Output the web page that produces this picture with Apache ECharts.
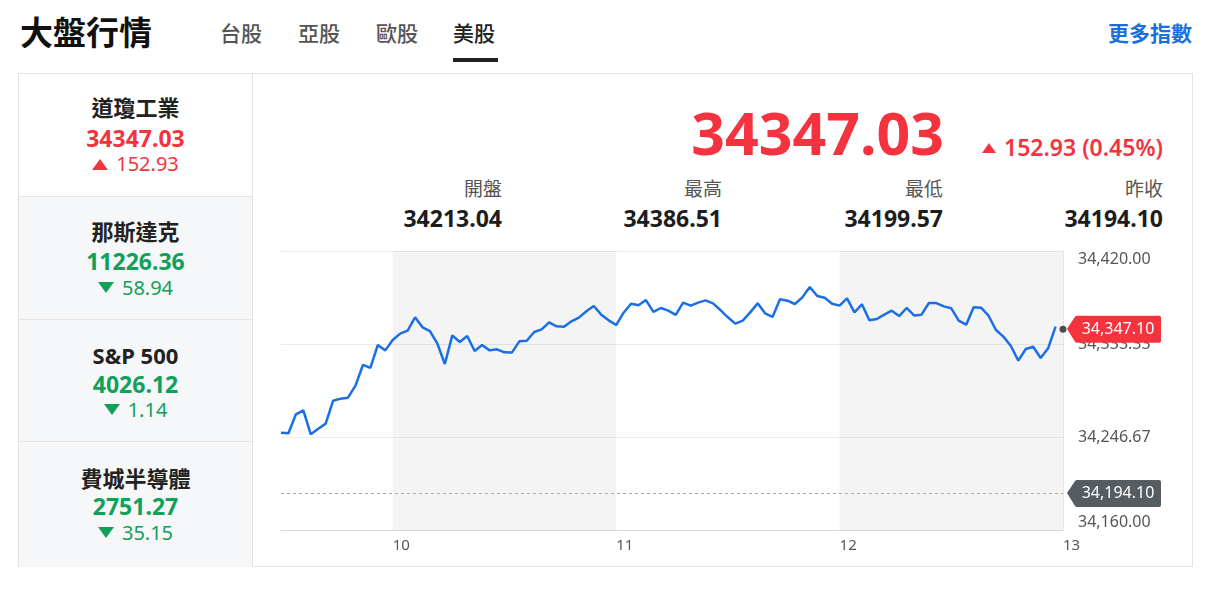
<!DOCTYPE html>
<html><head><meta charset="utf-8">
<script src="https://cdn.jsdelivr.net/npm/echarts@6/dist/echarts.min.js"></script>
<style>
html,body{margin:0;padding:0;background:#fff;width:1217px;height:592px;overflow:hidden;
 font-family:"Noto Sans","Noto Sans CJK TC",sans-serif;}
.abs{position:absolute;white-space:nowrap;}
#title{left:20px;top:13px;font-size:33px;line-height:40px;font-weight:bold;color:#111;}
.tab{top:20px;font-size:21px;line-height:26px;color:#555;font-weight:500;}
.tab.on{color:#222;}
#uline{left:453px;top:58px;width:45px;height:4px;background:#222;}
#more{right:25px;top:20px;font-size:21px;line-height:26px;color:#1a6fdf;font-weight:600;}
#panel{left:18px;top:73px;width:1173px;height:492px;border:1px solid #e3e3e3;}
.cell{left:19px;width:233px;border-right:1px solid #e3e3e3;border-top:1px solid #e3e3e3;background:#f6f7f8;}
.ctx{left:18px;width:235px;text-align:center;}
.nm{font-size:22px;line-height:30px;font-weight:bold;color:#222;}
.val{font-size:23px;line-height:30px;font-weight:bold;}
.chg{font-size:20px;line-height:26px;}
.up{color:#f4333f;} .dn{color:#10a05a;}
.tri-up{display:inline-block;width:0;height:0;border-left:8px solid transparent;border-right:8px solid transparent;border-bottom:11px solid #f4333f;margin-right:8px;vertical-align:1px;}
.tri-dn{display:inline-block;width:0;height:0;border-left:8px solid transparent;border-right:8px solid transparent;border-top:11px solid #10a05a;margin-right:8px;vertical-align:2px;}
#big{right:273px;top:99px;font-size:59px;line-height:66px;font-weight:bold;color:#f4333f;}
#bigchg{right:54px;top:132px;font-size:23px;line-height:30px;font-weight:600;color:#f4333f;}
#bigchg .tri-up{border-left-width:7.5px;border-right-width:7.5px;border-bottom-width:10px;margin-right:8px;vertical-align:3px;}
.lab{font-size:19px;line-height:24px;color:#555;text-align:right;}
.sv{font-size:23px;line-height:30px;font-weight:bold;color:#1d1d1d;text-align:right;}
#chart{position:absolute;left:254px;top:240px;width:938px;height:326px;}
</style></head>
<body>
<div id="title" class="abs">大盤行情</div>
<div class="abs tab" style="left:220px">台股</div>
<div class="abs tab" style="left:298px">亞股</div>
<div class="abs tab" style="left:376px">歐股</div>
<div class="abs tab on" style="left:453px">美股</div>
<div id="uline" class="abs"></div>
<div id="more" class="abs">更多指數</div>
<div id="panel" class="abs"></div>
<div class="abs cell" style="top:74px;height:122px;background:#fff;border-top:none"></div>
<div class="abs cell" style="top:196px;height:122px"></div>
<div class="abs cell" style="top:319px;height:121px"></div>
<div class="abs cell" style="top:441px;height:125px"></div>
<div id="cells"></div>
<div id="big" class="abs"></div>
<div id="bigchg" class="abs"></div>
<div id="stats"></div>
<div id="chart"></div>
<script>
// ---- data ----
const indexNames = ['道瓊工業', '那斯達克', 'S&P 500', '費城半導體'];
const indexValues = ['34347.03', '11226.36', '4026.12', '2751.27'];
const indexChanges = ['152.93', '58.94', '1.14', '35.15'];
const indexDirections = ['up', 'dn', 'dn', 'dn'];
const mainPrice = '34347.03';
const mainChange = '152.93 (0.45%)';
const statLabels = ['開盤', '最高', '最低', '昨收'];
const statValues = ['34213.04', '34386.51', '34199.57', '34194.10'];
const sessionStart = [9, 30];
const stepMinutes = 2;
const xTickLabels = ['10', '11', '12', '13'];
const yMin = 34160, yMax = 34420, ySplits = 3;
const prevClose = 34194.10;
const lastPrice = 34347.10;
const prices = [
 34250.7,34250.1,34267.8,34271.5,34249.2,34254.4,34259.1,34280.5,34282.4,34283.3,
 34294.5,34313.8,34311.0,34332.4,34327.4,34337.1,34343.0,34345.8,34358.2,34348.9,
 34345.4,34333.6,34314.7,34341.4,34335.2,34340.8,34326.8,34332.4,34327.4,34328.4,
 34325.6,34325.3,34335.8,34336.4,34344.5,34347.0,34353.5,34349.8,34349.5,34354.5,
 34357.9,34363.8,34368.7,34360.7,34355.4,34351.0,34362.5,34370.9,34369.4,34374.3,
 34363.2,34366.9,34364.4,34360.4,34371.9,34369.1,34371.9,34374.0,34371.2,34365.0,
 34358.2,34352.3,34355.1,34362.8,34371.2,34361.9,34358.5,34375.0,34373.7,34370.6,
 34376.8,34386.5,34378.1,34376.5,34370.9,34369.1,34375.9,34362.8,34370.3,34355.4,
 34356.6,34360.7,34364.4,34359.4,34366.9,34360.0,34360.7,34371.5,34371.5,34368.4,
 34366.6,34355.1,34351.3,34367.5,34367.2,34359.7,34346.4,34340.2,34331.5,34317.8,
 34328.7,34330.8,34320.3,34329.3,34349.5
];
const sessionEnd = [13, 0];

// ---- page text ----
const cellCenters = [[107,138,164],[231,260.5,287.5],[354.5,384,410],[477.5,506,532.5]];
let html = '';
indexNames.forEach((n, i) => {
  const c = cellCenters[i], d = indexDirections[i];
  html += `<div class="abs ctx nm" style="top:${c[0]-15}px">${n}</div>`;
  html += `<div class="abs ctx val ${d}" style="top:${c[1]-15}px">${indexValues[i]}</div>`;
  html += `<div class="abs ctx chg ${d}" style="top:${c[2]-13}px"><span class="tri-${d}"></span>${indexChanges[i]}</div>`;
});
document.getElementById('cells').innerHTML = html;
document.getElementById('big').textContent = mainPrice;
document.getElementById('bigchg').innerHTML = '<span class="tri-up"></span>' + mainChange;
const statRights = [502, 722, 943, 1163];
let sh = '';
statLabels.forEach((l, i) => {
  const r = 1217 - statRights[i];
  sh += `<div class="abs lab" style="right:${r}px;top:177px">${l}</div>`;
  sh += `<div class="abs sv" style="right:${r}px;top:203px">${statValues[i]}</div>`;
});
document.getElementById('stats').innerHTML = sh;

// ---- chart ----
const pad = n => (n < 10 ? '0' : '') + n;
const times = [];
for (let m = sessionStart[0]*60+sessionStart[1]; m <= sessionEnd[0]*60+sessionEnd[1]; m += stepMinutes) {
  times.push(pad(Math.floor(m/60)) + ':' + pad(m % 60));
}
const lastTime = times[times.length - 1];
const fmt = v => v.toLocaleString('en-US', {minimumFractionDigits: 2, maximumFractionDigits: 2});
const rel = v => v - yMin;
const tagPath = 'path://M0,13 L8,1 Q9,0 10,0 L92,0 Q94,0 94,2 L94,25 Q94,27 92,27 L10,27 Q9,27 8,26 Z';

const chart = echarts.init(document.getElementById('chart'), null, {renderer: 'canvas'});
chart.setOption({
  animation: false,
  textStyle: {fontFamily: '"Noto Sans", sans-serif'},
  grid: {left: 27, top: 11, width: 782, height: 279, containLabel: false},
  xAxis: {
    type: 'category', boundaryGap: false, data: times,
    axisLine: {show: true, lineStyle: {color: '#d8d8de', width: 1}},
    axisTick: {show: false},
    splitLine: {show: false},
    axisLabel: {
      color: '#555', fontSize: 15, align: 'left', margin: 8,
      interval: (idx, val) => xTickLabels.indexOf(String(parseInt(val, 10))) >= 0 && val.endsWith(':00'),
      formatter: val => String(parseInt(val, 10))
    }
  },
  yAxis: {
    type: 'value', position: 'right', min: 0, max: yMax - yMin, interval: (yMax - yMin) / ySplits,
    axisLine: {show: true, lineStyle: {color: '#e6e6ea'}},
    axisTick: {show: false},
    splitLine: {show: true, lineStyle: {color: '#ececec', width: 1}},
    axisLabel: {
      color: '#555', fontSize: 16, margin: 15, align: 'left',
      verticalAlignMinLabel: 'bottom', verticalAlignMaxLabel: 'top',
      formatter: v => fmt(v + yMin)
    }
  },
  series: [
    {
      type: 'line', data: prices.map(rel), symbol: 'none', clip: false,
      lineStyle: {color: '#1a6ee6', width: 2.5}, z: 3,
      markArea: {
        silent: true,
        itemStyle: {color: 'rgba(0,0,0,0.045)'},
        data: [[{xAxis: '10:00'}, {xAxis: '11:00'}], [{xAxis: '12:00'}, {xAxis: '13:00'}]]
      },
      markLine: {
        silent: true, symbol: 'none',
        lineStyle: {color: '#a8a8a8', type: [3, 3], width: 1},
        label: {show: false},
        data: [{yAxis: rel(prevClose)}]
      },
      markPoint: {
        silent: true,
        symbol: tagPath, symbolSize: [94, 27], symbolOffset: [51, 0], symbolKeepAspect: false,
        label: {show: true, position: 'inside', color: '#fff', fontSize: 16, offset: [4, 0]},
        data: [
          {coord: [lastTime, rel(lastPrice)], itemStyle: {color: '#f4333f'}, label: {formatter: fmt(lastPrice)}},
          {coord: [lastTime, rel(prevClose)], itemStyle: {color: '#555c62'}, label: {formatter: fmt(prevClose)}}
        ]
      }
    },
    {
      type: 'scatter', data: [[lastTime, rel(lastPrice)]], symbolSize: 7, z: 5,
      itemStyle: {color: '#222'}, silent: true
    }
  ]
});
</script>
</body></html>
